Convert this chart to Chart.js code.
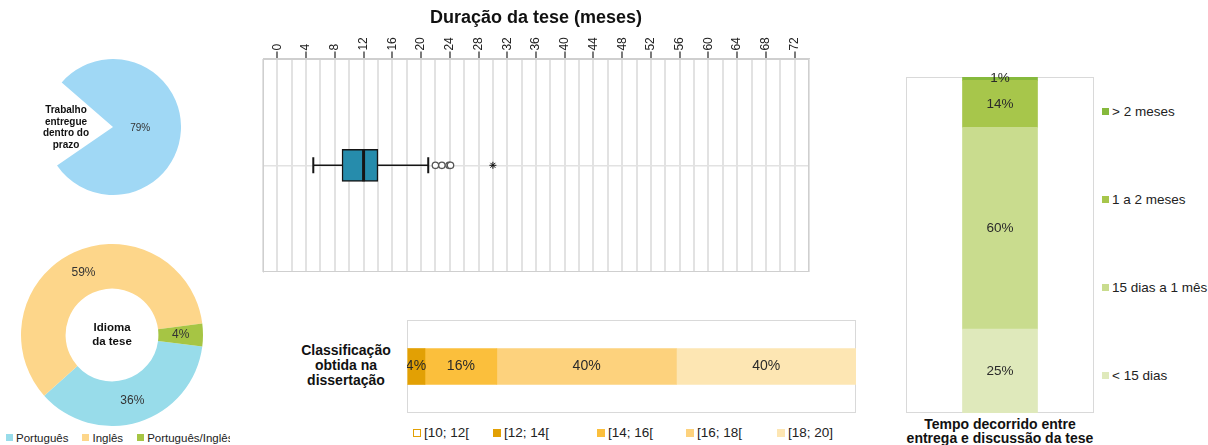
<!DOCTYPE html>
<html><head><meta charset="utf-8">
<script src="https://cdn.jsdelivr.net/npm/chart.js@4.4.1/dist/chart.umd.min.js"></script>
<style>
html,body{margin:0;padding:0;background:#fff;}
body{width:1208px;height:445px;position:relative;overflow:hidden;font-family:"Liberation Sans",Arial,sans-serif;color:#1a1a1a;}
canvas{position:absolute;}
.lbl{position:absolute;text-align:center;font-weight:bold;color:#111;}
.legItem{position:absolute;white-space:nowrap;display:flex;align-items:center;color:#222;}
.sw{display:inline-block;box-sizing:border-box;}
</style></head><body>
<canvas id="cPie" width="136" height="136" style="left:45px;top:59px"></canvas>
<canvas id="cDonut" width="182" height="182" style="left:21px;top:244px"></canvas>
<canvas id="cBox" width="592" height="285" style="left:240px;top:0px"></canvas>
<canvas id="cGrade" width="449" height="93" style="left:407px;top:320px"></canvas>
<canvas id="cDelay" width="188" height="346" style="left:906px;top:67px"></canvas>

<div class="lbl" style="left:26px;top:104px;width:80px;font-size:10px;line-height:11.5px;">Trabalho<br>entregue<br>dentro do<br>prazo</div>
<div class="lbl" style="left:62px;top:320px;width:100px;font-size:11.5px;line-height:14px;">Idioma<br>da tese</div>
<div class="lbl" style="left:286px;top:343px;width:120px;font-size:14px;line-height:15px;">Classificação<br>obtida na<br>dissertação</div>
<div class="lbl" style="left:890px;top:417px;width:220px;font-size:14px;line-height:14px;">Tempo decorrido entre<br>entrega e discussão da tese</div>
<div id="legLang" style="position:absolute;left:0;top:432px;width:230px;height:13px;overflow:hidden;"></div>
<div id="legGrade"></div>
<div id="legDelay"></div>

<script>
// ---------- DATA ----------
const deadlineLabels = ['Trabalho entregue dentro do prazo', 'Fora do prazo'];
const deadlineValues = [79, 21];

const languageLabels = ['Português', 'Inglês', 'Português/Inglês'];
const languageValues = [36, 59, 4];

const durationCategory = ['Duração da tese'];
const durationTickLabels = ['0','4','8','12','16','20','24','28','32','36','40','44','48','52','56','60','64','68','72'];
const durationWhiskers = [5, 21];
const durationQuartiles = [9, 14];
const durationMedian = [12];
const durationOutliers = [22, 22.9, 23.9, 24.1];
const durationExtremes = [30];

const gradeLabels = ['[10; 12[', '[12; 14[', '[14; 16[', '[16; 18[', '[18; 20]'];
const gradeValues = [0, 4, 16, 40, 40];

const delayLabels = ['< 15 dias', '15 dias a 1 mês', '1 a 2 meses', '> 2 meses'];
const delayValues = [25, 60, 14, 1];

// ---------- STYLES ----------
const deadlineColors = ['#a0d8f5', 'rgba(0,0,0,0)'];
const languageColors = ['#98dcea', '#fdd68a', '#a6c544'];
const gradeColors = ['#ffffff', '#e2a004', '#fbbf3c', '#fdd27d', '#fde6b3'];
const gradeBorders = ['#e2a004', '#e2a004', '#fbbf3c', '#fdd27d', '#fde6b3'];
const delayColors = ['#dfe9bb', '#c9dc8e', '#a7c64b', '#86b93c'];
const FONT = "'Liberation Sans', Arial, sans-serif";

Chart.defaults.font.family = FONT;
Chart.defaults.animation = false;
Chart.defaults.responsive = false;
Chart.defaults.plugins.legend.display = false;
Chart.defaults.plugins.tooltip.enabled = false;
Chart.defaults.events = [];

// ---------- PLUGINS ----------
const valueLabels = {
  id: 'valueLabels',
  afterDatasetsDraw(chart, args, opts) {
    const ctx = chart.ctx;
    ctx.save();
    ctx.font = opts.font;
    ctx.fillStyle = opts.color || '#222';
    ctx.textAlign = 'center';
    ctx.textBaseline = 'middle';
    chart.data.datasets.forEach((ds, di) => {
      const meta = chart.getDatasetMeta(di);
      meta.data.forEach((el, i) => {
        const v = ds.data[i];
        if (typeof v !== 'number' || v <= 0) return;
        if (opts.onlyIndex !== undefined && opts.onlyIndex !== i) return;
        let x, y;
        if (meta.type === 'pie' || meta.type === 'doughnut') {
          const p = el.getProps(['x','y','startAngle','endAngle','innerRadius','outerRadius'], true);
          const a = (p.startAngle + p.endAngle) / 2;
          const r = opts.radius ? p.outerRadius * opts.radius : (p.innerRadius + p.outerRadius) / 2;
          x = p.x + Math.cos(a) * r; y = p.y + Math.sin(a) * r;
        } else {
          const c = el.getCenterPoint(); x = c.x; y = c.y;
        }
        ctx.fillText(v + '%', x, y + (opts.dy || 0));
      });
    });
    ctx.restore();
  }
};

const frame = {
  id: 'frame',
  beforeDatasetsDraw(chart, args, opts) {
    const {left, top, right, bottom} = chart.chartArea;
    const ctx = chart.ctx;
    ctx.save();
    ctx.strokeStyle = opts.color || '#d9d9d9';
    ctx.lineWidth = 1;
    ctx.strokeRect(Math.round(left) + 0.5, Math.round(top) + 0.5, Math.round(right - left) - 1, Math.round(bottom - top) - 1);
    ctx.restore();
  }
};

const whiskers = {
  id: 'whiskers',
  afterDatasetsDraw(chart) {
    const xs = chart.scales.x, ys = chart.scales.y;
    const yc = ys.getPixelForValue(0);
    const box = chart.getDatasetMeta(0).data[0];
    const h = box.height;
    const ctx = chart.ctx;
    ctx.save();
    ctx.strokeStyle = '#151515';
    ctx.lineWidth = 1.6;
    const px = v => xs.getPixelForValue(v);
    ctx.beginPath();
    ctx.moveTo(px(durationWhiskers[0]), yc); ctx.lineTo(px(durationQuartiles[0]), yc);
    ctx.moveTo(px(durationQuartiles[1]), yc); ctx.lineTo(px(durationWhiskers[1]), yc);
    ctx.stroke();
    ctx.lineWidth = 2;
    ctx.beginPath();
    durationWhiskers.forEach(w => { ctx.moveTo(px(w), yc - 8); ctx.lineTo(px(w), yc + 8); });
    ctx.stroke();
    ctx.lineWidth = 3;
    ctx.beginPath();
    ctx.moveTo(px(durationMedian[0]), yc - h / 2); ctx.lineTo(px(durationMedian[0]), yc + h / 2);
    ctx.stroke();
    ctx.restore();
  }
};

// ---------- CHARTS ----------
new Chart(document.getElementById('cPie'), {
  type: 'pie',
  data: { labels: deadlineLabels, datasets: [{ data: deadlineValues, backgroundColor: deadlineColors, borderWidth: 0 }] },
  options: {
    rotation: 311,
    layout: { padding: 0 },
    plugins: { valueLabels: { font: '10px ' + FONT, color: '#333', radius: 0.4, onlyIndex: 0 } }
  },
  plugins: [valueLabels]
});

new Chart(document.getElementById('cDonut'), {
  type: 'doughnut',
  data: { labels: languageLabels, datasets: [{ data: languageValues, backgroundColor: languageColors, borderWidth: 0 }] },
  options: {
    rotation: 97.3,
    cutout: '51%',
    plugins: { valueLabels: { font: '12px ' + FONT, color: '#333' } }
  },
  plugins: [valueLabels]
});

new Chart(document.getElementById('cBox'), {
  type: 'bar',
  data: {
    labels: durationCategory,
    datasets: [
      { type: 'bar', data: [durationQuartiles], backgroundColor: '#268cac', borderColor: '#151515', borderWidth: 1.5, borderSkipped: false, barThickness: 32 },
      { type: 'scatter', data: durationOutliers.map(v => ({ x: v, y: durationCategory[0] })), pointStyle: 'circle', radius: 3.2, borderWidth: 1.3, borderColor: '#555', backgroundColor: '#fff' },
      { type: 'scatter', data: durationExtremes.map(v => ({ x: v, y: durationCategory[0] })), pointStyle: 'star', radius: 3.5, borderWidth: 1, borderColor: '#111', backgroundColor: '#111' }
    ]
  },
  options: {
    indexAxis: 'y',
    layout: { padding: { left: 23, right: 23, top: 0, bottom: 13 } },
    plugins: {
      title: { display: true, text: 'Duração da tese (meses)', color: '#111', font: { size: 18, weight: 'bold', family: FONT }, padding: { top: 7.5, bottom: 0 } },
      frame: { color: '#cfcfcf' }
    },
    scales: {
      x: {
        type: 'linear', position: 'top', min: -2, max: 74,
        afterFit: s => { s.height = 29.5; },
        border: { color: '#cfcfcf' },
        grid: {
          color: '#e2e2e2', lineWidth: 2, tickLength: 7, tickWidth: 1.2,
          tickColor: c => durationTickLabels.includes(String(c.tick.value)) ? '#222' : 'rgba(0,0,0,0)'
        },
        ticks: {
          stepSize: 2, autoSkip: false, minRotation: 90, maxRotation: 90, padding: 1, labelOffset: 14.4,
          color: '#222', font: { size: 12, family: FONT },
          callback: v => durationTickLabels.includes(String(v)) ? String(v) : ''
        }
      },
      y: {
        type: 'category', offset: true,
        afterFit: s => { s.width = 0; },
        border: { color: '#cfcfcf' },
        grid: { offset: false, color: '#e2e2e2', lineWidth: 1.5, drawTicks: false },
        ticks: { display: false }
      }
    }
  },
  plugins: [frame, whiskers]
});

new Chart(document.getElementById('cGrade'), {
  type: 'bar',
  data: {
    labels: ['Classificação obtida na dissertação'],
    datasets: gradeLabels.map((l, i) => ({ label: l, data: [gradeValues[i]], backgroundColor: gradeColors[i], borderWidth: 0, barThickness: 36 }))
  },
  options: {
    indexAxis: 'y',
    layout: { padding: 0 },
    scales: {
      x: { stacked: true, min: 0, max: 100, display: false },
      y: { stacked: true, display: false }
    },
    plugins: { frame: { color: '#d9d9d9' }, valueLabels: { font: '14px ' + FONT, color: '#2a2a2a' } }
  },
  plugins: [frame, valueLabels]
});

new Chart(document.getElementById('cDelay'), {
  type: 'bar',
  data: {
    labels: ['Tempo decorrido entre entrega e discussão da tese'],
    datasets: delayLabels.map((l, i) => ({ label: l, data: [delayValues[i]], backgroundColor: delayColors[i], borderWidth: 0, barThickness: 75 }))
  },
  options: {
    layout: { padding: { top: 10 } },
    scales: {
      x: { stacked: true, display: false },
      y: { stacked: true, min: 0, max: 100, display: false }
    },
    plugins: { frame: { color: '#d9d9d9' }, valueLabels: { font: '13.5px ' + FONT, color: '#2a2a2a' } }
  },
  plugins: [frame, valueLabels]
});

// ---------- HTML LEGENDS ----------
function legendItem(parent, text, fill, border, size, fontSize, left, top) {
  const d = document.createElement('div');
  d.className = 'legItem';
  d.style.left = left + 'px'; d.style.top = top + 'px';
  d.style.fontSize = fontSize + 'px';
  d.style.height = (fontSize + 2) + 'px';
  const s = document.createElement('span');
  s.className = 'sw';
  s.style.width = size + 'px'; s.style.height = size + 'px';
  s.style.background = fill; s.style.border = '1px solid ' + border;
  s.style.marginRight = '3px';
  d.appendChild(s);
  d.appendChild(document.createTextNode(text));
  parent.appendChild(d);
  return d;
}

// language legend: flow, clipped at the panel edge
(function () {
  const box = document.getElementById('legLang');
  let x = 6;
  languageLabels.forEach((l, i) => {
    const d = legendItem(box, l, languageColors[i], languageColors[i], 7, 11.5, x, -1);
    x += d.getBoundingClientRect().width + 14;
  });
})();

// grade legend
(function () {
  const box = document.getElementById('legGrade');
  const lefts = [413, 493, 597, 686, 777];
  gradeLabels.forEach((l, i) => legendItem(box, l, gradeColors[i], gradeBorders[i], 8, 13.5, lefts[i], 425));
})();

// delay legend (reversed order, top to bottom)
(function () {
  const box = document.getElementById('legDelay');
  const tops = [112, 200, 288, 376];
  delayLabels.slice().reverse().forEach((l, k) => {
    const i = delayLabels.length - 1 - k;
    legendItem(box, l, delayColors[i], delayColors[i], 7, 13.5, 1102, tops[k] - 8);
  });
})();
</script>
</body></html>
